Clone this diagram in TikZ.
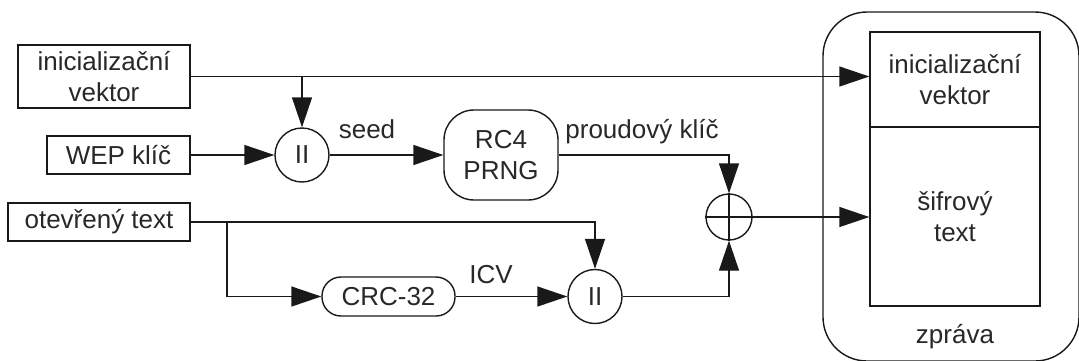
\documentclass[tikz,border=0pt]{standalone}
\usepackage{fontspec}
\setmainfont{Liberation Sans}
\usetikzlibrary{arrows.meta,calc}
\definecolor{txt}{RGB}{40,40,40}
\begin{document}
\begin{tikzpicture}[x=1pt,y=-1pt,
  font=\fontsize{26pt}{31pt}\selectfont,
  every node/.style={text=txt, inner sep=0pt},
  line/.style={line width=1.4pt, draw=black!90},
  arr/.style={line, -{Triangle[length=30pt,width=20pt]}},
  rbox/.style={line, draw, rectangle, align=center},
  opcirc/.style={line, draw, circle, minimum size=54pt},
  lbl/.style={anchor=base}
]
\useasboundingbox (0,0) rectangle (1079,360);

% outer message container
\node[line, draw, rounded corners=44pt, minimum width=256pt, minimum height=349pt] (outer) at (951,186.5) {};

% left inputs
\node[rbox, minimum width=172pt, minimum height=63pt] (iv) at (104,76.5) {inicializační\\vektor};
\node[rbox, minimum width=143pt, minimum height=38pt] (wep) at (118.5,155) {WEP klíč};
\node[rbox, minimum width=182pt, minimum height=38pt] (ot) at (99,222) {otevřený text};

% operators
\node[opcirc] (c1) at (302,155) {II};
\node[line, draw, rectangle, rounded corners=30pt, minimum width=114pt, minimum height=90pt, align=center] (rc4) at (501,155) {RC4\\PRNG};
\node[line, draw, rectangle, rounded corners=19pt, minimum width=133pt, minimum height=39pt] (crc) at (388.5,296.5) {CRC-32};
\node[opcirc] (c2) at (595,296.5) {II};
\node[line, draw, circle, minimum size=46pt] (xor) at (729,217) {};
\draw[line] (xor.north) -- (xor.south);
\draw[line] (xor.west) -- (xor.east);

% message fields
\node[rbox, minimum width=170pt, minimum height=95pt] (ivout) at (955,79.5) {inicializační\\vektor};
\node[rbox, minimum width=170pt, minimum height=179pt] (cipher) at (955,216.5) {šifrový\\text};

% labels
\node[lbl] (seed) at (367,138) {seed};
\node[lbl] (pk) at (642,138) {proudový klíč};
\node[lbl] (icv) at (491,283) {ICV};
\node[lbl] (zpr) at (955,343) {zpráva};

% junctions
\coordinate (j1) at (iv.east -| c1);
\coordinate (j2) at (227,222);

% connectors
\draw[arr] (iv.east) -- (iv.east -| ivout.west);
\draw[arr] (j1) -- (c1.north);
\draw[arr] (wep.east) -- (c1.west);
\draw[arr] (c1.east) -- (rc4.west);
\draw[arr] (rc4.east) -| (xor.north);
\draw[arr] (ot.east) -| (c2.north);
\draw[arr] (j2) |- (crc.west);
\draw[arr] (crc.east) -- (c2.west);
\draw[arr] (c2.east) -| (xor.south);
\draw[arr] (xor.east) -- (xor.east -| cipher.west);
\end{tikzpicture}
\end{document}
